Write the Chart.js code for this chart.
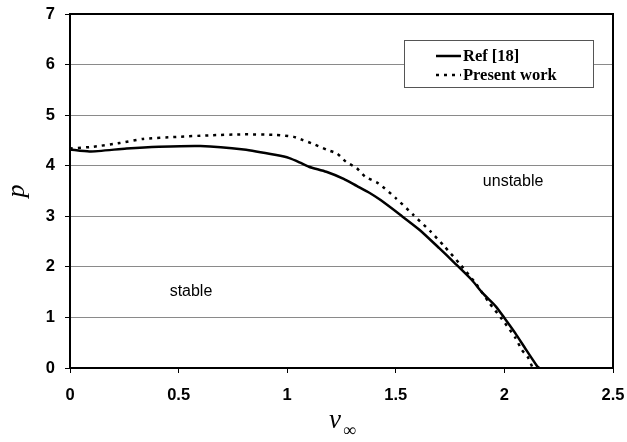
<!DOCTYPE html>
<html>
<head>
<meta charset="utf-8">
<script src="https://cdn.jsdelivr.net/npm/chart.js@4/dist/chart.umd.min.js"></script>
<style>
html,body{margin:0;padding:0;background:#fff;}
canvas{display:block;}
</style>
</head>
<body>
<canvas id="c" width="627" height="442"></canvas>
<script>
// Ref [18] (solid)
const refX = [0, 0.09, 0.26, 0.41, 0.6, 0.8, 0.95, 1.01, 1.06, 1.10, 1.18, 1.26, 1.32, 1.38, 1.43, 1.52, 1.61, 1.70, 1.77, 1.85, 1.90, 1.96, 2.0, 2.05, 2.10, 2.15, 2.16];
const refP = [4.32, 4.28, 4.34, 4.375, 4.39, 4.32, 4.21, 4.15, 4.06, 3.98, 3.88, 3.74, 3.60, 3.46, 3.32, 3.03, 2.73, 2.37, 2.08, 1.74, 1.48, 1.22, 0.99, 0.69, 0.36, 0.04, 0];
// Present work (dotted)
const presX = [0, 0.107, 0.23, 0.337, 0.49, 0.64, 0.8, 0.95, 1.03, 1.07, 1.12, 1.18, 1.23, 1.27, 1.32, 1.36, 1.42, 1.50, 1.58, 1.66, 1.725, 1.80, 1.87, 1.93, 1.99, 2.05, 2.08, 2.11, 2.13];
const presP = [4.34, 4.375, 4.45, 4.53, 4.57, 4.60, 4.62, 4.61, 4.57, 4.51, 4.43, 4.32, 4.24, 4.08, 3.95, 3.78, 3.65, 3.36, 3.03, 2.70, 2.40, 2.03, 1.66, 1.29, 0.96, 0.60, 0.36, 0.20, 0];
const seriesNames = ['Ref [18]', 'Present work'];
// region labels
const regionText = ['stable', 'unstable'];
const regionX = [0.557, 2.04];
const regionP = [1.51, 3.68];
const xTicks = [0, 0.5, 1, 1.5, 2, 2.5];
const yTicks = [0, 1, 2, 3, 4, 5, 6, 7];

const toPts = (xs, ys) => xs.map((x, i) => ({x: x, y: ys[i]}));

const framePlugin = {
  id: 'frame',
  afterDatasetsDraw(chart) {
    const ctx = chart.ctx, a = chart.chartArea;
    const xs = chart.scales.x, ys = chart.scales.y;
    ctx.save();
    // region labels
    ctx.fillStyle = '#000';
    ctx.font = '16px "Liberation Sans", Arial, sans-serif';
    ctx.textAlign = 'center';
    ctx.textBaseline = 'middle';
    regionText.forEach((t, i) => ctx.fillText(t, xs.getPixelForValue(regionX[i]), ys.getPixelForValue(regionP[i])));
    // frame
    ctx.strokeStyle = '#000';
    ctx.lineWidth = 2;
    ctx.strokeRect(a.left, a.top, a.right - a.left, a.bottom - a.top);
    // legend box
    const bx = 404, by = 40, bw = 189, bh = 47;
    ctx.fillStyle = '#fff';
    ctx.fillRect(bx, by, bw, bh);
    ctx.lineWidth = 1;
    ctx.strokeStyle = '#555';
    ctx.strokeRect(bx + 0.5, by + 0.5, bw, bh);
    const ds = chart.data.datasets;
    const rows = [56, 75];
    ctx.font = 'bold 16.5px "Liberation Serif", "Times New Roman", serif';
    ctx.textAlign = 'left';
    ctx.textBaseline = 'middle';
    ds.forEach((d, i) => {
      ctx.beginPath();
      ctx.setLineDash(d.borderDash || []);
      ctx.lineWidth = d.borderWidth;
      ctx.strokeStyle = d.borderColor;
      ctx.moveTo(436, rows[i]);
      ctx.lineTo(461, rows[i]);
      ctx.stroke();
      ctx.setLineDash([]);
      ctx.fillStyle = '#000';
      ctx.fillText(d.label, 463, rows[i] + 1);
    });
    // x axis title v_inf
    ctx.textBaseline = 'alphabetic';
    ctx.font = 'italic 27px "Liberation Serif", "Times New Roman", serif';
    ctx.fillText('v', 329, 428);
    ctx.font = '18px "Liberation Serif", "Times New Roman", serif';
    ctx.fillText('\u221E', 343, 436);
    ctx.restore();
  }
};

new Chart(document.getElementById('c'), {
  type: 'scatter',
  data: {
    datasets: [
      {label: seriesNames[0], data: toPts(refX, refP), showLine: true, borderColor: '#000', borderWidth: 2.5, pointRadius: 0, tension: 0.2, fill: false},
      {label: seriesNames[1], data: toPts(presX, presP), showLine: true, borderColor: '#000', borderWidth: 2.5, borderDash: [3, 5], pointRadius: 0, tension: 0.2, fill: false}
    ]
  },
  options: {
    responsive: false,
    devicePixelRatio: 1,
    animation: false,
    layout: {autoPadding: false, padding: {top: 14, right: 14, left: 0, bottom: 0}},
    plugins: {legend: {display: false}, tooltip: {enabled: false}},
    scales: {
      x: {
        type: 'linear', min: 0, max: 2.5,
        afterBuildTicks: (s) => { s.ticks = xTicks.map(v => ({value: v})); },
        afterFit: (s) => { s.height = 74; s.paddingLeft = 0; s.paddingRight = 0; },
        ticks: {color: '#000', font: {family: '"Liberation Sans", Arial, sans-serif', size: 16.5, weight: 'bold'}, padding: 13, maxRotation: 0,
          callback: (v) => String(v)},
        grid: {drawOnChartArea: false, tickLength: 5, tickColor: '#000', tickWidth: 1},
        border: {display: true, color: '#000', width: 2}
      },
      y: {
        min: 0, max: 7,
        afterBuildTicks: (s) => { s.ticks = yTicks.map(v => ({value: v})); },
        afterFit: (s) => { s.width = 70; s.paddingTop = 0; s.paddingBottom = 0; },
        ticks: {color: '#000', font: {family: '"Liberation Sans", Arial, sans-serif', size: 16.5, weight: 'bold'}, padding: 10,
          callback: (v) => String(v)},
        grid: {
          color: (c) => (c.tick && (c.tick.value === 0 || c.tick.value === 7)) ? 'rgba(0,0,0,0)' : '#8a8a8a',
          lineWidth: 1, tickLength: 5, tickColor: '#000', tickWidth: 1
        },
        border: {display: true, color: '#000', width: 2},
        title: {display: true, text: 'p', color: '#000', font: {family: '"Liberation Serif", "Times New Roman", serif', size: 26, style: 'italic'}, padding: {top: 2, bottom: 0}}
      }
    }
  },
  plugins: [framePlugin]
});
</script>
</body>
</html>
